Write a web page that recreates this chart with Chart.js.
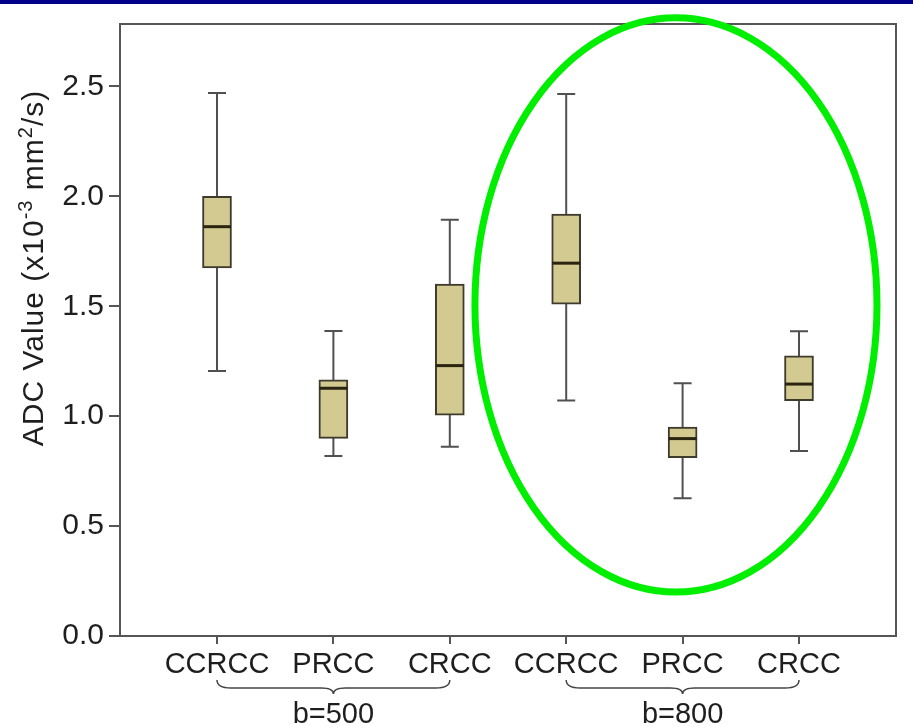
<!DOCTYPE html>
<html>
<head>
<meta charset="utf-8">
<script src="https://cdn.jsdelivr.net/npm/chart.js@4.4.1/dist/chart.umd.min.js"></script>
<style>
    body { margin: 0; background: #fff; }
    #wrap { width: 913px; height: 726px; }
</style>
</head>
<body>
<div id="wrap"><canvas id="adcChart" width="913" height="726"></canvas></div>
<script>
// ADC values per tumour type, two b-values
const categories = ["CCRCC", "PRCC", "CRCC", "CCRCC", "PRCC", "CRCC"];
const whiskerLow = [1.205, 0.819, 0.861, 1.071, 0.627, 0.842];
const q1 = [1.674, 0.899, 1.004, 1.510, 0.811, 1.071];
const medians = [1.862, 1.127, 1.230, 1.696, 0.898, 1.146];
const q3 = [2.000, 1.165, 1.601, 1.919, 0.950, 1.274];
const whiskerHigh = [2.470, 1.387, 1.893, 2.466, 1.150, 1.386];
const groupLabels = ["b=500", "b=800"];
const groupRanges = [[1, 3], [4, 6]];
const yTicks = [0, 0.5, 1.0, 1.5, 2.0, 2.5];

const FONT = "'Liberation Sans', Arial, Helvetica, sans-serif";
const TEXT = "#1e1e1e";
const AXIS = "#555555";

const boxPlugin = {
    id: "boxParts",
    beforeDraw(chart) {
        const ctx = chart.ctx;
        ctx.save();
        ctx.fillStyle = "#ffffff";
        ctx.fillRect(0, 0, chart.width, chart.height);
        ctx.fillStyle = "#000088";
        ctx.fillRect(0, 0, chart.width, 4);
        ctx.restore();
    },
    beforeDatasetsDraw(chart) {
        // whiskers go under the boxes
        const ctx = chart.ctx;
        const xs = chart.scales.x, ys = chart.scales.y;
        ctx.save();
        ctx.strokeStyle = "#505050";
        ctx.lineWidth = 2;
        categories.forEach((c, i) => {
            const x = xs.getPixelForValue(i + 1);
            const lo = ys.getPixelForValue(whiskerLow[i]);
            const hi = ys.getPixelForValue(whiskerHigh[i]);
            ctx.beginPath();
            ctx.moveTo(x, lo); ctx.lineTo(x, hi);
            ctx.moveTo(x - 9, lo); ctx.lineTo(x + 9, lo);
            ctx.moveTo(x - 9, hi); ctx.lineTo(x + 9, hi);
            ctx.stroke();
        });
        ctx.restore();
    },
    afterDatasetsDraw(chart) {
        const ctx = chart.ctx;
        const xs = chart.scales.x, ys = chart.scales.y;
        ctx.save();
        ctx.strokeStyle = "#2a2410";
        ctx.lineWidth = 3;
        categories.forEach((c, i) => {
            const x = xs.getPixelForValue(i + 1);
            const m = ys.getPixelForValue(medians[i]);
            ctx.beginPath();
            ctx.moveTo(x - 14, m); ctx.lineTo(x + 14, m);
            ctx.stroke();
        });
        // plot frame
        const a = chart.chartArea;
        ctx.strokeStyle = AXIS;
        ctx.lineWidth = 2;
        ctx.strokeRect(a.left, a.top, a.right - a.left, a.bottom - a.top);
        ctx.restore();
    },
    afterDraw(chart) {
        const ctx = chart.ctx;
        const xs = chart.scales.x, ys = chart.scales.y;
        ctx.save();

        // group braces and labels
        ctx.strokeStyle = "#444444";
        ctx.lineWidth = 1.5;
        groupRanges.forEach((r, g) => {
            const x0 = xs.getPixelForValue(r[0]);
            const x1 = xs.getPixelForValue(r[1]);
            const cx = (x0 + x1) / 2;
            const y0 = 680, y1 = 688;
            ctx.beginPath();
            ctx.moveTo(x0, y0);
            ctx.quadraticCurveTo(x0, y1, x0 + 14, y1);
            ctx.lineTo(cx - 12, y1);
            ctx.quadraticCurveTo(cx, y1, cx, y1 + 6);
            ctx.quadraticCurveTo(cx, y1, cx + 12, y1);
            ctx.lineTo(x1 - 14, y1);
            ctx.quadraticCurveTo(x1, y1, x1, y0);
            ctx.stroke();
            ctx.fillStyle = TEXT;
            ctx.font = "29px " + FONT;
            ctx.textAlign = "center";
            ctx.textBaseline = "alphabetic";
            ctx.fillText(groupLabels[g], cx, 723);
        });

        // y axis title with superscripts
        const parts = [
            { t: "ADC Value (x10", size: 30, rise: 0 },
            { t: "-3", size: 20, rise: 11 },
            { t: " mm", size: 30, rise: 0 },
            { t: "2", size: 20, rise: 11 },
            { t: "/s)", size: 30, rise: 0 }
        ];
        ctx.translate(43, 268);
        ctx.rotate(-Math.PI / 2);
        ctx.fillStyle = TEXT;
        ctx.textAlign = "left";
        ctx.textBaseline = "alphabetic";
        ctx.letterSpacing = "1px";
        let total = 0;
        parts.forEach(p => {
            ctx.font = p.size + "px " + FONT;
            p.w = ctx.measureText(p.t).width;
            total += p.w;
        });
        let pos = -total / 2;
        parts.forEach(p => {
            ctx.font = p.size + "px " + FONT;
            ctx.fillText(p.t, pos, -p.rise);
            pos += p.w;
        });
        ctx.setTransform(1, 0, 0, 1, 0, 0);
        ctx.letterSpacing = "0px";

        // highlight ellipse around the b=800 group
        const cx = xs.getPixelForValue(4.943);
        const cy = ys.getPixelForValue(1.506);
        const rx = Math.abs(xs.getPixelForValue(4.943 + 1.727) - cx);
        const ry = Math.abs(ys.getPixelForValue(1.506 + 1.306) - cy);
        ctx.strokeStyle = "#00ee00";
        ctx.lineWidth = 7;
        ctx.beginPath();
        ctx.ellipse(cx, cy, rx, ry, 0, 0, Math.PI * 2);
        ctx.stroke();
        ctx.restore();
    }
};

new Chart(document.getElementById("adcChart"), {
    type: "bar",
    data: {
        datasets: [
            {
                label: "ADC",
                data: categories.map((c, i) => ({ x: i + 1, y: [q1[i], q3[i]] })),
                backgroundColor: "#d2ca91",
                borderColor: "#3e3a2c",
                borderWidth: 2,
                borderSkipped: false,
                barThickness: 29,
            }
        ]
    },
    options: {
        responsive: false,
        animation: false,
        layout: { padding: { top: 24, right: 17, left: 0, bottom: 0 } },
        plugins: {
            legend: { display: false },
            tooltip: { enabled: false }
        },
        scales: {
            x: {
                type: "linear",
                offset: false,
                bounds: "ticks",
                min: 1 / 6,
                max: 6 + 5 / 6,
                afterBuildTicks: s => { s.ticks = categories.map((c, i) => ({ value: i + 1 })); },
                afterFit: s => { s.height = 90; },
                ticks: {
                    autoSkip: false,
                    maxRotation: 0,
                    padding: 4,
                    color: TEXT,
                    font: { family: FONT, size: 29 },
                    callback: v => categories[v - 1]
                },
                grid: { offset: false, drawOnChartArea: false, tickLength: 8, color: AXIS, lineWidth: 2 },
                border: { color: AXIS, width: 2 }
            },
            y: {
                min: 0,
                max: 2.784,
                afterBuildTicks: s => { s.ticks = yTicks.map(v => ({ value: v })); },
                afterFit: s => { s.width = 120; },
                ticks: {
                    padding: 5,
                    color: TEXT,
                    font: { family: FONT, size: 30 },
                    callback: v => Number(v).toFixed(1)
                },
                grid: { drawOnChartArea: false, tickLength: 11, color: AXIS, lineWidth: 2 },
                border: { color: AXIS, width: 2 }
            }
        }
    },
    plugins: [boxPlugin]
});
</script>
</body>
</html>
